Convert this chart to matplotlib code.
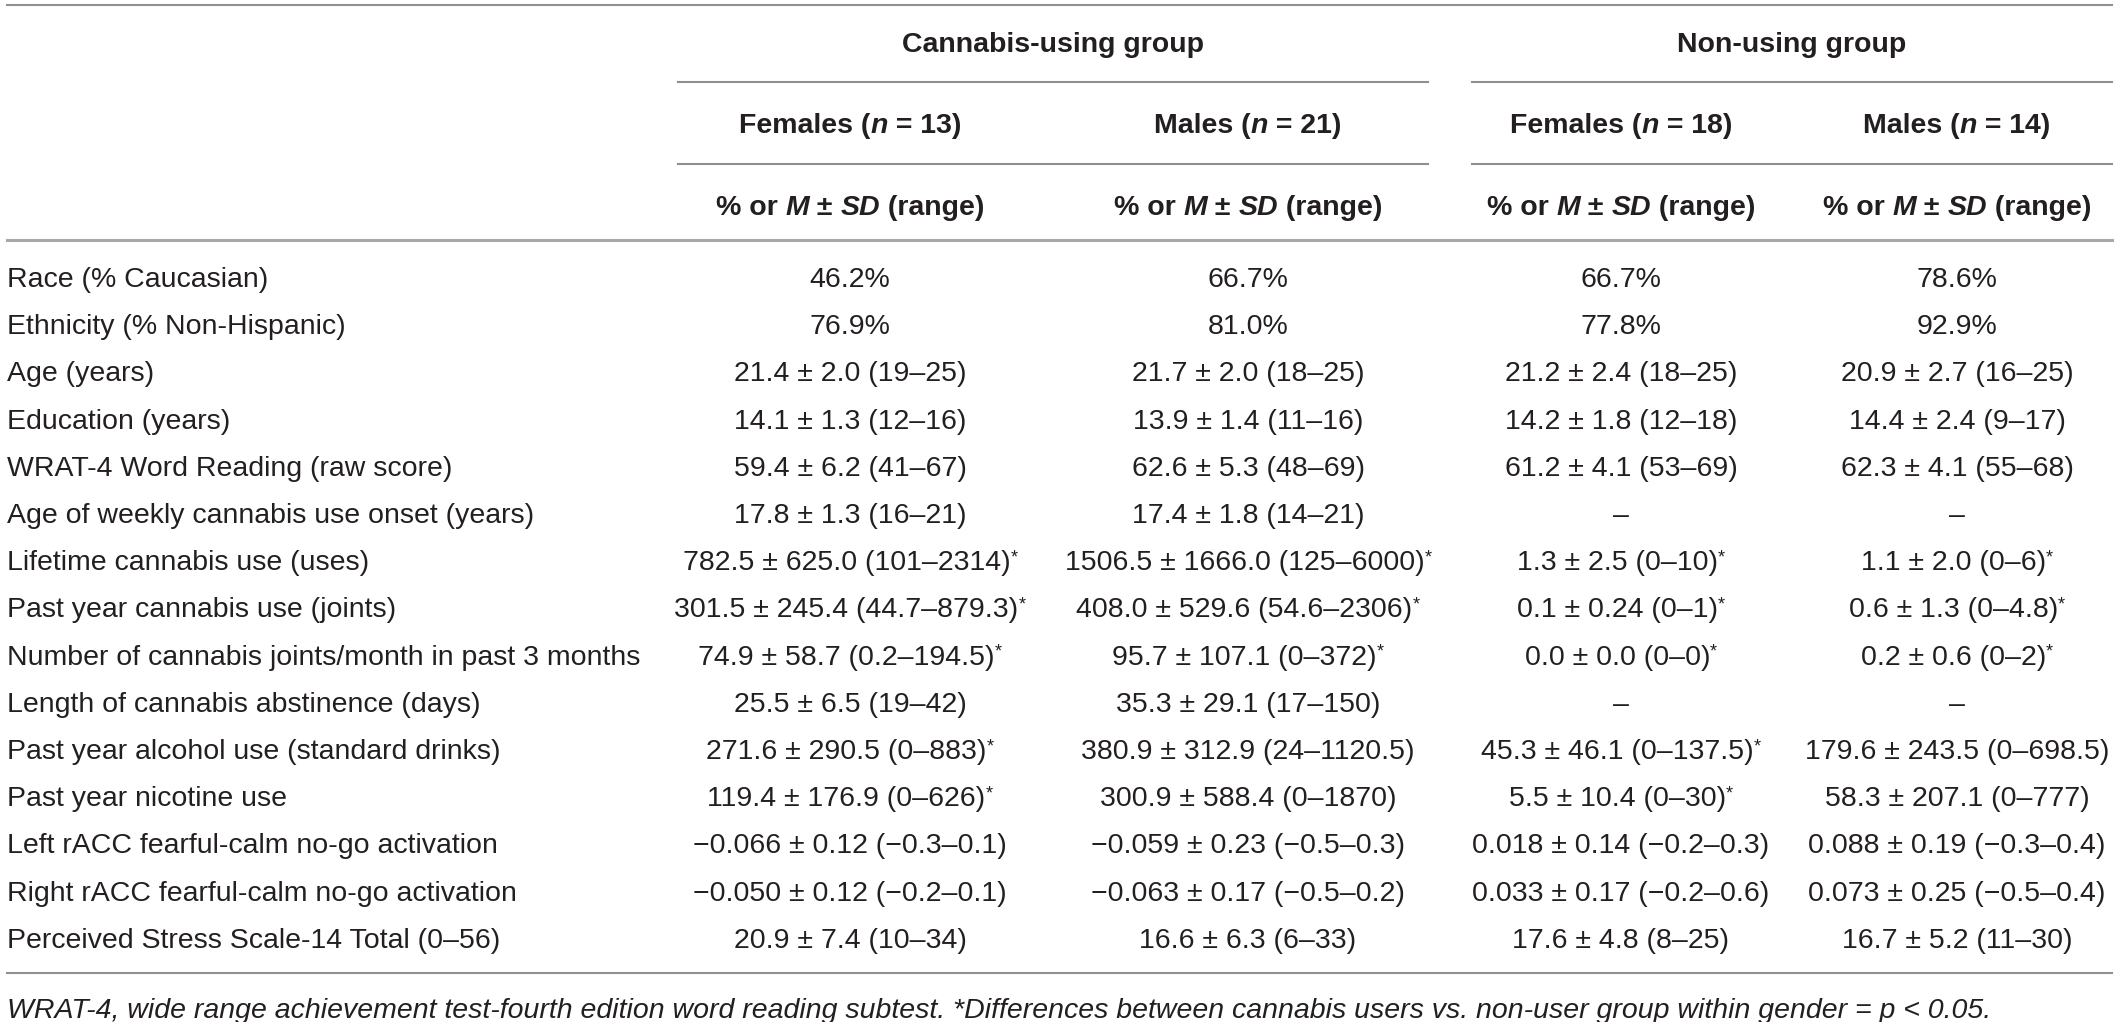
import matplotlib
matplotlib.use('Agg')
import matplotlib.pyplot as plt

# table content
groups = ['Cannabis-using group', 'Non-using group']
sub_sex = ['Females', 'Males', 'Females', 'Males']
sub_n = [13, 21, 18, 14]

row_labels = [
    'Race (% Caucasian)',
    'Ethnicity (% Non-Hispanic)',
    'Age (years)',
    'Education (years)',
    'WRAT-4 Word Reading (raw score)',
    'Age of weekly cannabis use onset (years)',
    'Lifetime cannabis use (uses)',
    'Past year cannabis use (joints)',
    'Number of cannabis joints/month in past 3 months',
    'Length of cannabis abstinence (days)',
    'Past year alcohol use (standard drinks)',
    'Past year nicotine use',
    'Left rACC fearful-calm no-go activation',
    'Right rACC fearful-calm no-go activation',
    'Perceived Stress Scale-14 Total (0\u201356)',
]

cu_female = [
    '46.2%', '76.9%',
    '21.4 \u00b1 2.0 (19\u201325)',
    '14.1 \u00b1 1.3 (12\u201316)',
    '59.4 \u00b1 6.2 (41\u201367)',
    '17.8 \u00b1 1.3 (16\u201321)',
    '782.5 \u00b1 625.0 (101\u20132314)*',
    '301.5 \u00b1 245.4 (44.7\u2013879.3)*',
    '74.9 \u00b1 58.7 (0.2\u2013194.5)*',
    '25.5 \u00b1 6.5 (19\u201342)',
    '271.6 \u00b1 290.5 (0\u2013883)*',
    '119.4 \u00b1 176.9 (0\u2013626)*',
    '\u22120.066 \u00b1 0.12 (\u22120.3\u20130.1)',
    '\u22120.050 \u00b1 0.12 (\u22120.2\u20130.1)',
    '20.9 \u00b1 7.4 (10\u201334)',
]
cu_male = [
    '66.7%', '81.0%',
    '21.7 \u00b1 2.0 (18\u201325)',
    '13.9 \u00b1 1.4 (11\u201316)',
    '62.6 \u00b1 5.3 (48\u201369)',
    '17.4 \u00b1 1.8 (14\u201321)',
    '1506.5 \u00b1 1666.0 (125\u20136000)*',
    '408.0 \u00b1 529.6 (54.6\u20132306)*',
    '95.7 \u00b1 107.1 (0\u2013372)*',
    '35.3 \u00b1 29.1 (17\u2013150)',
    '380.9 \u00b1 312.9 (24\u20131120.5)',
    '300.9 \u00b1 588.4 (0\u20131870)',
    '\u22120.059 \u00b1 0.23 (\u22120.5\u20130.3)',
    '\u22120.063 \u00b1 0.17 (\u22120.5\u20130.2)',
    '16.6 \u00b1 6.3 (6\u201333)',
]
nu_female = [
    '66.7%', '77.8%',
    '21.2 \u00b1 2.4 (18\u201325)',
    '14.2 \u00b1 1.8 (12\u201318)',
    '61.2 \u00b1 4.1 (53\u201369)',
    '\u2013',
    '1.3 \u00b1 2.5 (0\u201310)*',
    '0.1 \u00b1 0.24 (0\u20131)*',
    '0.0 \u00b1 0.0 (0\u20130)*',
    '\u2013',
    '45.3 \u00b1 46.1 (0\u2013137.5)*',
    '5.5 \u00b1 10.4 (0\u201330)*',
    '0.018 \u00b1 0.14 (\u22120.2\u20130.3)',
    '0.033 \u00b1 0.17 (\u22120.2\u20130.6)',
    '17.6 \u00b1 4.8 (8\u201325)',
]
nu_male = [
    '78.6%', '92.9%',
    '20.9 \u00b1 2.7 (16\u201325)',
    '14.4 \u00b1 2.4 (9\u201317)',
    '62.3 \u00b1 4.1 (55\u201368)',
    '\u2013',
    '1.1 \u00b1 2.0 (0\u20136)*',
    '0.6 \u00b1 1.3 (0\u20134.8)*',
    '0.2 \u00b1 0.6 (0\u20132)*',
    '\u2013',
    '179.6 \u00b1 243.5 (0\u2013698.5)',
    '58.3 \u00b1 207.1 (0\u2013777)',
    '0.088 \u00b1 0.19 (\u22120.3\u20130.4)',
    '0.073 \u00b1 0.25 (\u22120.5\u20130.4)',
    '16.7 \u00b1 5.2 (11\u201330)',
]

footnote = ('WRAT-4, wide range achievement test-fourth edition word reading subtest. '
            '*Differences between cannabis users vs. non-user group within gender = p < 0.05.')

# layout (pixels)
W, H = 2118, 1022
FONT = 'Liberation Sans'
FS = 20.5
INK = '#231f20'
col_x = [850, 1248, 1621, 1957]
group_x = [(678, 1428), (1472, 2112)]
left, right = 7, 2112
row_y0, row_dy = 287, 47.2

fig = plt.figure(figsize=(W / 100, H / 100), dpi=100)
ax = fig.add_axes([0, 0, 1, 1])
ax.set_xlim(0, W)
ax.set_ylim(H, 0)
ax.axis('off')
renderer = fig.canvas.get_renderer()


def runs_text(x, y, runs, ha='center'):
    # draw a sequence of differently styled pieces on one baseline
    pieces = []
    total = 0
    for s, kw in runs:
        t = ax.text(0, y, s, family=FONT, color=INK, va='baseline', ha='left',
                    fontsize=kw.get('size', FS), fontweight=kw.get('weight', 'normal'),
                    fontstyle=kw.get('style', 'normal'))
        w = t.get_window_extent(renderer).width
        pieces.append((t, w, kw.get('dy', 0)))
        total += w
    pos = x - total / 2 if ha == 'center' else x
    for t, w, dy in pieces:
        t.set_x(pos)
        t.set_y(y - dy)
        pos += w


B = {'weight': 'bold'}
BI = {'weight': 'bold', 'style': 'italic'}
STAR = {'size': 13, 'dy': 8}

# header
for name, (x0, x1) in zip(groups, group_x):
    runs_text((x0 + x1) / 2, 52, [(name, B)])
for i, x in enumerate(col_x):
    runs_text(x, 133, [(sub_sex[i] + ' (', B), ('n', BI), (' = %d)' % sub_n[i], B)])
    runs_text(x, 215, [('% or ', B), ('M', BI), (' \u00b1 ', B), ('SD', BI), (' (range)', B)])

# rules
gray = '#8f8f8f'
ax.plot([left, right], [5, 5], color=gray, lw=1.5)
for x0, x1 in group_x:
    ax.plot([x0, x1], [82, 82], color=gray, lw=1.5)
    ax.plot([x0, x1], [164, 164], color=gray, lw=1.5)
ax.plot([left, right], [240, 240], color='#a8a8a8', lw=2.2)
ax.plot([left, right], [973, 973], color=gray, lw=1.5)

# body
columns = [cu_female, cu_male, nu_female, nu_male]
for r, label in enumerate(row_labels):
    y = row_y0 + r * row_dy
    ax.text(left, y, label, family=FONT, fontsize=FS, color=INK, va='baseline', ha='left')
    for c, x in enumerate(col_x):
        val = columns[c][r]
        if val.endswith('*'):
            runs_text(x, y, [(val[:-1], {}), ('*', STAR)])
        else:
            runs_text(x, y, [(val, {})])

ax.text(left, 1018, footnote, family=FONT, fontsize=FS, fontstyle='italic',
        color=INK, va='baseline', ha='left')

fig.savefig('out.png', dpi=100)
